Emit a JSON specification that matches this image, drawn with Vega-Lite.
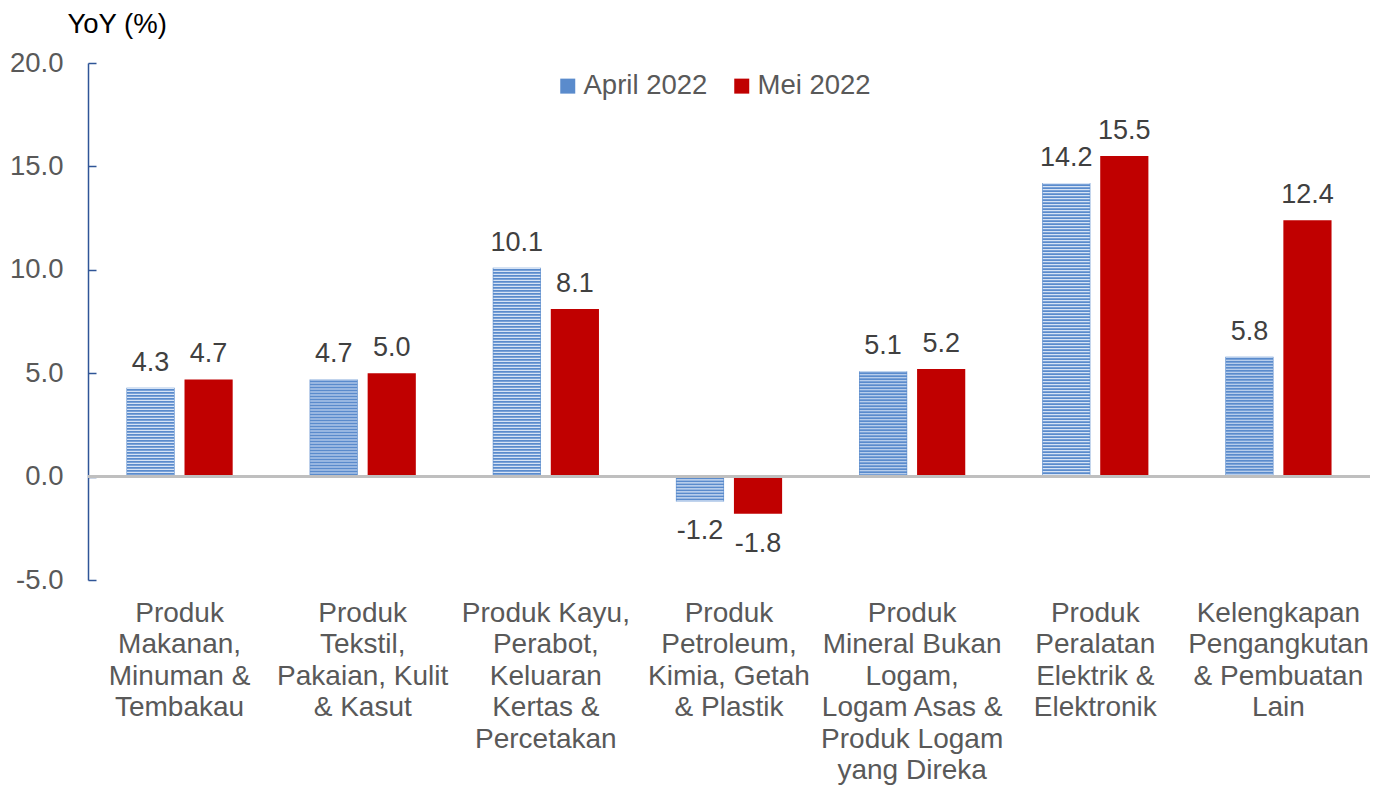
{
  "$schema": "https://vega.github.io/schema/vega-lite/v6.json",
  "width": 1282,
  "height": 517,
  "autosize": {"type": "none"},
  "padding": {"left": 88, "top": 63, "right": 12, "bottom": 210},
  "background": "white",
  "config": {
    "view": {"stroke": null},
    "font": "Liberation Sans",
    "text": {"font": "Liberation Sans"},
    "locale": {"number": {"decimal": ".", "thousands": ",", "grouping": [3], "currency": ["$", ""], "minus": "-"}}
  },
  "data": {
    "values": [
      {"cat": "Produk|Makanan,|Minuman &|Tembakau", "series": "April 2022", "value": 4.3},
      {"cat": "Produk|Makanan,|Minuman &|Tembakau", "series": "Mei 2022", "value": 4.7},
      {"cat": "Produk|Tekstil,|Pakaian, Kulit|& Kasut", "series": "April 2022", "value": 4.7},
      {"cat": "Produk|Tekstil,|Pakaian, Kulit|& Kasut", "series": "Mei 2022", "value": 5.0},
      {"cat": "Produk Kayu,|Perabot,|Keluaran|Kertas &|Percetakan", "series": "April 2022", "value": 10.1},
      {"cat": "Produk Kayu,|Perabot,|Keluaran|Kertas &|Percetakan", "series": "Mei 2022", "value": 8.1},
      {"cat": "Produk|Petroleum,|Kimia, Getah|& Plastik", "series": "April 2022", "value": -1.2},
      {"cat": "Produk|Petroleum,|Kimia, Getah|& Plastik", "series": "Mei 2022", "value": -1.8},
      {"cat": "Produk|Mineral Bukan|Logam,|Logam Asas &|Produk Logam|yang Direka", "series": "April 2022", "value": 5.1},
      {"cat": "Produk|Mineral Bukan|Logam,|Logam Asas &|Produk Logam|yang Direka", "series": "Mei 2022", "value": 5.2},
      {"cat": "Produk|Peralatan|Elektrik &|Elektronik", "series": "April 2022", "value": 14.2},
      {"cat": "Produk|Peralatan|Elektrik &|Elektronik", "series": "Mei 2022", "value": 15.5},
      {"cat": "Kelengkapan|Pengangkutan|& Pembuatan|Lain", "series": "April 2022", "value": 5.8},
      {"cat": "Kelengkapan|Pengangkutan|& Pembuatan|Lain", "series": "Mei 2022", "value": 12.4}
    ]
  },
  "encoding": {
    "x": {
      "field": "cat",
      "type": "nominal",
      "sort": null,
      "scale": {"paddingInner": 0.42, "paddingOuter": 0.21},
      "axis": {
        "title": null,
        "orient": "bottom",
        "domain": false,
        "ticks": false,
        "labelAngle": 0,
        "labelExpr": "split(datum.label, '|')",
        "labelFont": "Liberation Sans",
        "labelFontSize": 28,
        "labelColor": "#595959",
        "labelLineHeight": 31.5,
        "labelBaseline": "top",
        "labelPadding": 19,
        "labelLimit": 300
      }
    },
    "xOffset": {
      "field": "series",
      "type": "nominal",
      "sort": ["April 2022", "Mei 2022"],
      "scale": {"paddingInner": 0.17, "paddingOuter": 0}
    },
    "y": {
      "field": "value",
      "type": "quantitative",
      "scale": {"domain": [-5, 20], "nice": false, "zero": false},
      "axis": {
        "title": "YoY (%)",
        "titleAngle": 0,
        "titleAlign": "left",
        "titleBaseline": "alphabetic",
        "titleX": -21,
        "titleY": -31,
        "titleFont": "Liberation Sans",
        "titleFontSize": 27.5,
        "titleFontWeight": "normal",
        "titleColor": "#000000",
        "values": [-5, 0, 5, 10, 15, 20],
        "format": ".1f",
        "grid": false,
        "domainColor": "#2F5597",
        "domainWidth": 1.5,
        "tickColor": "#2F5597",
        "tickWidth": 1.5,
        "tickSize": -8,
        "labelFont": "Liberation Sans",
        "labelFontSize": 27.5,
        "labelColor": "#595959",
        "labelPadding": 33
      }
    }
  },
  "layer": [
    {
      "mark": {"type": "bar", "strokeWidth": 1},
      "encoding": {
        "color": {
          "field": "series",
          "type": "nominal",
          "sort": ["April 2022", "Mei 2022"],
          "scale": {"domain": ["April 2022", "Mei 2022"], "range": ["#5A8BCC", "#C00000"]},
          "legend": {
            "title": null,
            "orient": "none",
            "direction": "horizontal",
            "legendX": 466,
            "legendY": 9,
            "symbolType": "square",
            "symbolSize": 225,
            "symbolStrokeWidth": 0,
            "labelFont": "Liberation Sans",
            "labelFontSize": 27.5,
            "labelColor": "#595959",
            "labelOffset": 2,
            "columnPadding": 20,
            "padding": 0
          }
        },
        "y2": {"datum": 0}
      }
    },
    {
      "transform": [{"filter": "datum.series === 'April 2022'"}],
      "mark": {"type": "rule", "color": "#D6E3F5", "strokeWidth": 47, "strokeDash": [1.2, 1.8], "strokeCap": "butt"},
      "encoding": {"y2": {"datum": 0}}
    },
    {
      "mark": {"type": "rule", "color": "#BFBFBF", "strokeWidth": 2.5},
      "encoding": {"y": {"datum": 0}, "x": null, "xOffset": null}
    },
    {
      "transform": [{"filter": "datum.value >= 0"}],
      "mark": {"type": "text", "baseline": "alphabetic", "dy": -17, "fontSize": 27, "color": "#404040", "font": "Liberation Sans"},
      "encoding": {"text": {"field": "value", "type": "quantitative", "format": ".1f"}}
    },
    {
      "transform": [{"filter": "datum.value < 0"}],
      "mark": {"type": "text", "baseline": "alphabetic", "dy": 38, "fontSize": 27, "color": "#404040", "font": "Liberation Sans"},
      "encoding": {"text": {"field": "value", "type": "quantitative", "format": ".1f"}}
    }
  ]
}
